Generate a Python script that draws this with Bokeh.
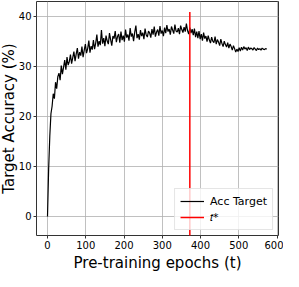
import numpy as np
from bokeh.plotting import figure
from bokeh.models import Range1d, FixedTicker, Title
from bokeh.embed import file_html
from bokeh.resources import INLINE

epochs = list(range(0, 576, 3))
acc_target = [
    0.0, 9.5, 16.0, 20.5, 22.0, 24.5, 23.5, 26.8, 25.5, 27.9,
    28.6, 27.2, 30.1, 28.4, 29.8, 31.2, 29.3, 31.8, 30.2, 30.9,
    32.3, 30.5, 31.7, 32.9, 31.0, 32.4, 33.6, 31.5, 32.8, 32.1,
    33.9, 31.8, 33.2, 34.4, 32.6, 33.5, 35.1, 32.7, 34.0, 33.3,
    35.2, 33.4, 34.6, 36.3, 33.9, 35.0, 34.2, 37.2, 34.5, 35.6,
    34.0, 36.1, 35.0, 34.4, 36.6, 35.3, 34.1, 36.0, 35.5, 37.0,
    34.8, 35.9, 36.4, 34.7, 36.9, 35.2, 36.1, 34.9, 37.3, 35.7,
    36.3, 35.1, 37.6, 35.9, 36.5, 35.0, 36.8, 38.1, 35.6, 36.4,
    35.3, 37.2, 36.0, 36.7, 35.4, 37.5, 36.2, 35.8, 37.0, 36.6,
    35.7, 37.4, 36.3, 37.9, 35.9, 36.8, 37.3, 36.1, 38.0, 36.5,
    37.1, 36.0, 37.7, 36.6, 38.2, 36.9, 37.4, 36.3, 37.9, 37.2,
    36.5, 38.3, 37.0, 36.8, 37.6, 36.4, 38.1, 37.3, 36.7, 37.8,
    36.9, 38.5, 37.1, 36.4, 37.7, 36.6, 37.4, 36.2, 37.5, 35.8,
    36.9, 35.6, 37.0, 35.4, 36.4, 35.1, 36.7, 35.5, 36.0, 34.9,
    36.1, 35.2, 34.6, 35.8, 35.0, 34.7, 35.9, 34.4, 35.3, 34.8,
    34.1, 35.4, 34.5, 33.9, 35.0, 34.3, 33.8, 34.7, 33.6, 34.4,
    33.9, 33.2, 34.1, 33.5, 32.8, 33.4, 32.9, 33.7, 33.0, 33.8,
    33.2, 33.9, 33.4, 33.7, 33.1, 33.8, 33.3, 33.6, 33.5, 33.2,
    33.7, 33.4, 33.1, 33.6, 33.3, 33.5, 33.2, 33.6, 33.4, 33.3,
    33.5, 33.4,
]
t_star = 372
t_line_bottom = -4.0
t_line_top = 40.8
x_ticks = [0, 100, 200, 300, 400, 500, 600]
y_ticks = [0, 10, 20, 30, 40]
x_title = "Pre-training epochs (t)"
y_title = "Target Accuracy (%)"

FONT = "DejaVu Sans"

p = figure(width=283, height=271, output_backend="svg", toolbar_location=None,
           x_range=Range1d(-28.75, 603.75), y_range=Range1d(-3.8, 42.9),
           min_border_left=0, min_border_right=5, min_border_top=1, min_border_bottom=0)

p.line(epochs, acc_target, line_color="black", line_width=1.2, legend_label="Acc Target")
p.segment(x0=[t_star], y0=[t_line_bottom], x1=[t_star], y1=[t_line_top],
          line_color="red", line_width=1.5, legend_label="𝑡*")

p.xaxis.ticker = FixedTicker(ticks=x_ticks)
p.yaxis.ticker = FixedTicker(ticks=y_ticks)
for ax in (p.xaxis[0], p.yaxis[0]):
    ax.major_label_text_font = FONT
    ax.major_label_text_font_size = "10px"
    ax.major_label_text_color = "black"
    ax.major_label_standoff = 2
    ax.axis_line_color = None
    ax.major_tick_line_color = "#333333"
    ax.major_tick_out = 3
    ax.major_tick_in = 0
    ax.minor_tick_line_color = None

p.add_layout(Title(text=x_title, align="center", text_font=FONT, text_font_size="15px",
                   text_font_style="normal", text_color="black", standoff=0, offset=0), "below")
p.add_layout(Title(text=y_title, align="center", text_font=FONT, text_font_size="15px",
                   text_font_style="normal", text_color="black", standoff=-5, offset=0), "left")

p.outline_line_color = "#333333"
p.outline_line_width = 1
p.xgrid.grid_line_color = "#b0b0b0"
p.ygrid.grid_line_color = "#b0b0b0"
p.xgrid.grid_line_width = 0.8
p.ygrid.grid_line_width = 0.8

lg = p.legend[0]
lg.location = "bottom_right"
lg.margin = 5
lg.padding = 5
lg.spacing = 2
lg.glyph_width = 24
lg.glyph_height = 14
lg.label_standoff = 6
lg.label_text_font = FONT
lg.label_text_font_size = "11px"
lg.label_text_color = "black"
lg.label_height = 14
lg.border_line_color = "#cccccc"
lg.background_fill_alpha = 0.8

open("out.html", "w").write(file_html(p, INLINE))
